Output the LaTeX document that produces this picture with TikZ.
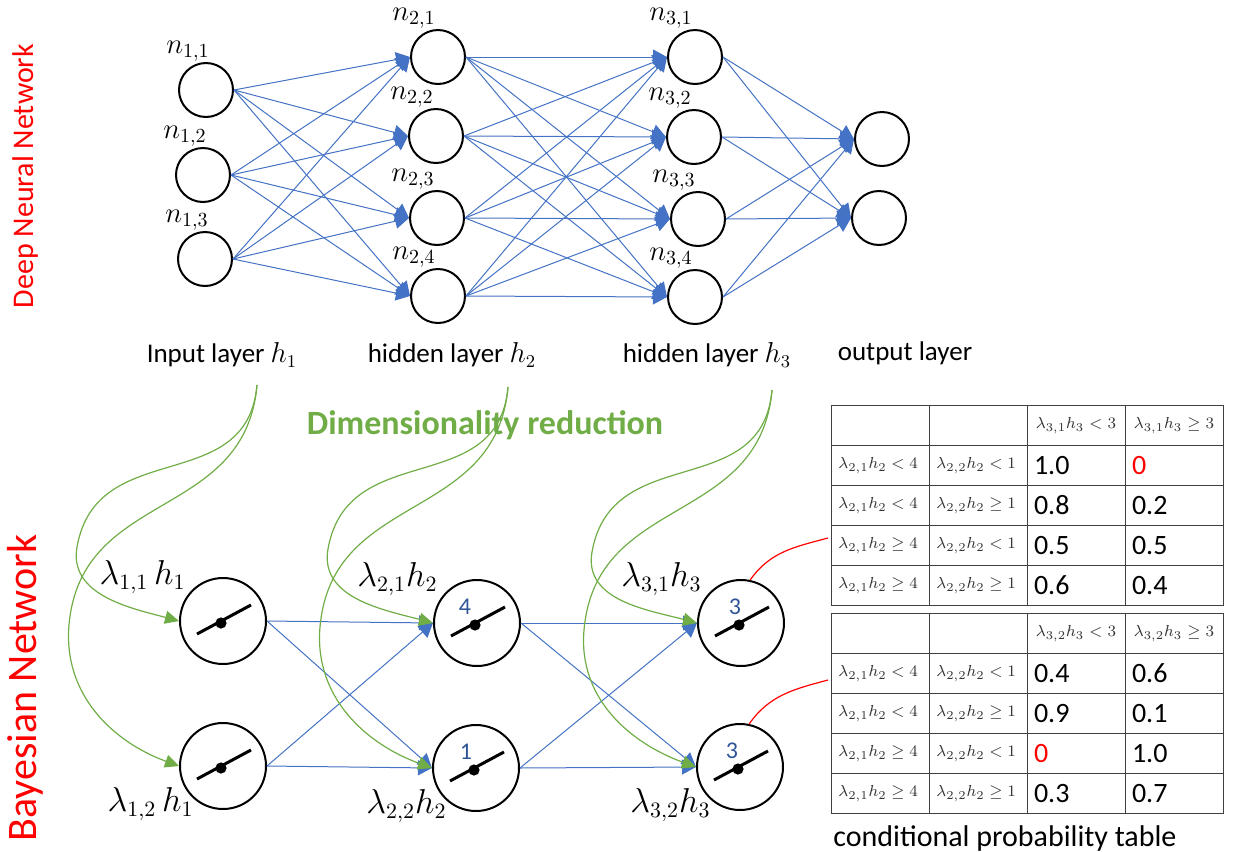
\documentclass[tikz,border=0pt]{standalone}
\usepackage{amsmath}
\usepackage{amssymb}
\usepackage{fontspec}
\setmainfont{Carlito}
\usepackage{tikz}
\usetikzlibrary{arrows.meta, positioning, matrix}

\definecolor{nnblue}{HTML}{4472C4}
\definecolor{drgreen}{HTML}{70AD47}
\definecolor{numblue}{HTML}{2F5597}
\definecolor{gridgray}{HTML}{404040}

\begin{document}
\begin{tikzpicture}[
    x=0.5pt, y=0.5pt,
    neuron/.style={circle, draw=black, line width=1pt, minimum size=27pt, inner sep=0pt},
    bnode/.style={circle, draw=black, line width=1pt, minimum size=43pt, inner sep=0pt,
        path picture={
            \draw[line width=1.5pt] ([shift={(-13pt,-6.5pt)}]path picture bounding box.center) -- ([shift={(14pt,8pt)}]path picture bounding box.center);
            \fill ([shift={(-1pt,-1pt)}]path picture bounding box.center) circle (2.8pt);}},
    nlabel/.style={font=\fontsize{14}{16}\selectfont, inner sep=1pt},
    lamlabel/.style={font=\fontsize{16}{19}\selectfont, inner sep=1pt},
    layertxt/.style={font=\fontsize{13.5}{16}\selectfont},
    sidetitle/.style={text=red, rotate=90},
    bnum/.style={font=\fontsize{12}{14}\selectfont, text=numblue, inner sep=0pt},
    arrow/.style={-{Triangle[length=7pt, width=7.5pt]}, draw=nnblue, line width=0.5pt},
    dimarrow/.style={-{Triangle[length=7pt, width=6.5pt]}, draw=drgreen, line width=0.6pt},
    cptlink/.style={draw=red, line width=0.6pt},
    cpt/.style={matrix of nodes, nodes in empty cells, column sep=-0.5pt, row sep=-0.5pt,
        nodes={draw=gridgray, line width=0.5pt, minimum width=49pt, minimum height=20pt,
            inner sep=2pt, anchor=center, align=center, font=\fontsize{8}{10}\selectfont, text=black!80},
        column 3/.style={nodes={text width=42pt, inner xsep=3pt, align=left, font=\fontsize{14}{16}\selectfont, text=black}},
        column 4/.style={nodes={text width=42pt, inner xsep=3pt, align=left, font=\fontsize{14}{16}\selectfont, text=black}},
        row 1/.style={nodes={align=center, font=\fontsize{8}{10}\selectfont, text=black!80}}}
]
\useasboundingbox (0,0) rectangle (1238,-852);

% deep neural network
\node[neuron] (n11) at (206,-90) {};
\node[neuron] (n12) at (203,-175) {};
\node[neuron] (n13) at (205,-259) {};
\node[neuron] (n21) at (438,-57) {};
\node[neuron] (n22) at (436,-136) {};
\node[neuron] (n23) at (437,-218) {};
\node[neuron] (n24) at (438,-296) {};
\node[neuron] (n31) at (695,-57) {};
\node[neuron] (n32) at (694,-137) {};
\node[neuron] (n33) at (698,-219) {};
\node[neuron] (n34) at (695,-297) {};
\node[neuron] (out1) at (882,-139) {};
\node[neuron] (out2) at (879,-218) {};

\foreach \i in {1,2,3}
    \node[nlabel, above=-1pt of n1\i, xshift=-9pt] (ln1\i) {$n_{1,\i}$};
\foreach \i in {1,...,4} {
    \node[nlabel, above=-1pt of n2\i, xshift=-12pt] (ln2\i) {$n_{2,\i}$};
    \node[nlabel, above=-1pt of n3\i, xshift=-12pt] (ln3\i) {$n_{3,\i}$};
}

\foreach \i in {1,2,3}
    \foreach \j in {1,...,4}
        \draw[arrow] (n1\i.east) -- (n2\j.west);
\foreach \i in {1,...,4}
    \foreach \j in {1,...,4}
        \draw[arrow] (n2\i.east) -- (n3\j.west);
\foreach \i in {1,...,4}
    \foreach \j in {1,2}
        \draw[arrow] (n3\i.east) -- (out\j.west);

\node[sidetitle, font=\fontsize{15}{18}\selectfont] (dnntitle) at (26,-176) {Deep Neural Network};

\node[layertxt] (lay1) at (222,-355) {Input layer $h_1$};
\node[layertxt] (lay2) at (452,-355) {hidden layer $h_2$};
\node[layertxt] (lay3) at (707,-355) {hidden layer $h_3$};
\node[layertxt] (lay4) at (905,-353) {output layer};

% bayesian network
\node[sidetitle, font=\fontsize{21}{25}\selectfont] (bntitle) at (25,-688) {Bayesian Network};

\node[bnode] (b11) at (223,-621) {};
\node[bnode] (b12) at (223,-766) {};
\node[bnode] (b21) at (477,-623) {};
\node[bnode] (b22) at (476,-768) {};
\node[bnode] (b31) at (741,-623) {};
\node[bnode] (b32) at (740,-767) {};

\node[bnum] (v21) at ([xshift=-6pt, yshift=8pt]b21.center) {4};
\node[bnum] (v22) at ([xshift=-5pt, yshift=8pt]b22.center) {1};
\node[bnum] (v31) at ([xshift=-3pt, yshift=8pt]b31.center) {3};
\node[bnum] (v32) at ([xshift=-4pt, yshift=8pt]b32.center) {3};

\node[lamlabel, above left=-3pt and 2pt of b11] (lb11) {$\lambda_{1,1}\,h_1$};
\node[lamlabel, above left=-3pt and 3pt of b21] (lb21) {$\lambda_{2,1}h_2$};
\node[lamlabel, above left=-3pt and 3pt of b31] (lb31) {$\lambda_{3,1}h_3$};
\node[lamlabel, below left=-6pt and -2pt of b12] (lb12) {$\lambda_{1,2}\,h_1$};
\node[lamlabel, below left=-6pt and -2pt of b22] (lb22) {$\lambda_{2,2}h_2$};
\node[lamlabel, below left=-6pt and -2pt of b32] (lb32) {$\lambda_{3,2}h_3$};

\foreach \s in {1,2}
    \foreach \t in {1,2} {
        \draw[arrow] (b1\s.east) -- (b2\t.west);
        \draw[arrow] (b2\s.east) -- (b3\t.west);
    }

% dimensionality reduction
\node[font=\bfseries\fontsize{17}{20}\selectfont, text=drgreen] (dimred) at (485,-425) {Dimensionality reduction};

\coordinate (g1) at (257,-385);
\coordinate (g2) at (508,-387);
\coordinate (g3) at (772,-390);
\foreach \k in {1,2,3} {
    \draw[dimarrow] (g\k) to[out=-95, in=80, looseness=1.2] ++(-180,-162) to[out=-100, in=165] (b\k1.west);
    \draw[dimarrow] (g\k) to[out=-95, in=85, looseness=1.15] ++(-188,-240) to[out=-95, in=160] (b\k2.west);
}

% conditional probability tables
\matrix[cpt] (cpt1) at (1027,-505.5) {
    & & $\lambda_{3,1}h_3<3$ & $\lambda_{3,1}h_3\geq 3$ \\
    $\lambda_{2,1}h_2<4$ & $\lambda_{2,2}h_2<1$ & 1.0 & |[text=red]| 0 \\
    $\lambda_{2,1}h_2<4$ & $\lambda_{2,2}h_2\geq 1$ & 0.8 & 0.2 \\
    $\lambda_{2,1}h_2\geq 4$ & $\lambda_{2,2}h_2<1$ & 0.5 & 0.5 \\
    $\lambda_{2,1}h_2\geq 4$ & $\lambda_{2,2}h_2\geq 1$ & 0.6 & 0.4 \\
};
\matrix[cpt] (cpt2) at (1027,-713.5) {
    & & $\lambda_{3,2}h_3<3$ & $\lambda_{3,2}h_3\geq 3$ \\
    $\lambda_{2,1}h_2<4$ & $\lambda_{2,2}h_2<1$ & 0.4 & 0.6 \\
    $\lambda_{2,1}h_2<4$ & $\lambda_{2,2}h_2\geq 1$ & 0.9 & 0.1 \\
    $\lambda_{2,1}h_2\geq 4$ & $\lambda_{2,2}h_2<1$ & |[text=red]| 0 & 1.0 \\
    $\lambda_{2,1}h_2\geq 4$ & $\lambda_{2,2}h_2\geq 1$ & 0.3 & 0.7 \\
};
\node[layertxt, font=\fontsize{15}{18}\selectfont] (cptcap) at (1005,-838) {conditional probability table};

\coordinate (t1in) at (828,-538);
\coordinate (t2in) at (828,-680);
\draw[cptlink] (b31.78) to[out=55, in=195] (t1in);
\draw[cptlink] (b32.78) to[out=55, in=195] (t2in);

\end{tikzpicture}
\end{document}
